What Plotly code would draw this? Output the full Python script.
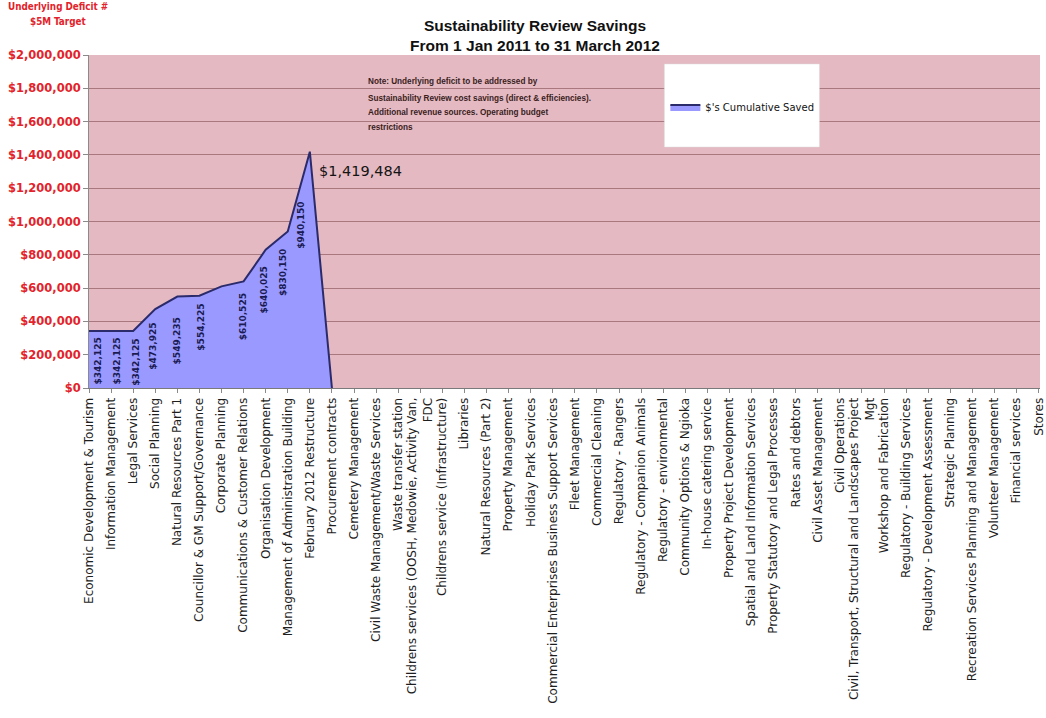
import plotly.graph_objects as go

categories = [
    "Economic Development & Tourism",
    "Information Management",
    "Legal Services",
    "Social Planning",
    "Natural Resources Part 1",
    "Councillor & GM Support/Governance",
    "Corporate Planning",
    "Communications & Customer Relations",
    "Organisation Development",
    "Management of Administration Building",
    "February 2012 Restructure",
    "Procurement contracts",
    "Cemetery Management",
    "Civil Waste Management/Waste Services",
    "Waste transfer station",
    "Childrens services (OOSH, Medowie, Activity Van,<br>FDC",
    "Childrens service (Infrastructure)",
    "Libraries",
    "Natural Resources (Part 2)",
    "Property Management",
    "Holiday Park Services",
    "Commercial Enterprises Business Support Services",
    "Fleet Management",
    "Commercial Cleaning",
    "Regulatory - Rangers",
    "Regulatory - Companion Animals",
    "Regulatory - environmental",
    "Community Options & Ngioka",
    "In-house catering service",
    "Property Project Development",
    "Spatial and Land Information Services",
    "Property Statutory and Legal Processes",
    "Rates and debtors",
    "Civil Asset Management",
    "Civil Operations",
    "Civil, Transport, Structural and Landscapes Project<br>Mgt",
    "Workshop and Fabrication",
    "Regulatory - Building Services",
    "Regulatory - Development Assessment",
    "Strategic Planning",
    "Recreation Services Planning and Management",
    "Volunteer Management",
    "Financial services",
    "Stores",
]

cumulative_saved = [342125, 342125, 342125, 473925, 549235, 554225,
                    610525, 640025, 830150, 940150, 1419484, 0]

series_name = "$'s Cumulative Saved"
title_lines = ["Sustainability Review Savings", "From 1 Jan 2011 to 31 March 2012"]
note_lines = [
    "Note: Underlying deficit to be addressed by",
    "Sustainability Review cost savings (direct & efficiencies).",
    "Additional revenue sources. Operating budget",
    "restrictions",
]
target_lines = ["Underlying Deficit #", "$5M Target"]
y_ticks = list(range(0, 2000001, 200000))

# ---- styling / layout ----
W, H = 1046, 718
ML, MR, MT, MB = 89, 0, 55, 330
PW, PH = W - ML - MR, H - MT - MB
PINK = "#e4b9c1"
GRID = "#a9787f"
RED = "#e2232b"
FILL = "#9999ff"
EDGE = "#2b2b6b"
ARIAL = "Liberation Sans, Arial, sans-serif"
COND = "DejaVu Sans Condensed, sans-serif"
WIDE = "DejaVu Sans, Verdana, sans-serif"

def px_x(x):
    return (x - ML) / PW

def px_y(y):
    return (H - MB - y) / PH

y_vals = cumulative_saved + [None] * (len(categories) - len(cumulative_saved))

fig = go.Figure()
fig.add_trace(go.Scatter(
    x=categories, y=y_vals, name=series_name, mode="lines",
    fill="tozeroy", fillcolor=FILL,
    line=dict(color=EDGE, width=2),
    connectgaps=False, showlegend=True,
))

# rotated data labels (offsets in pixels)
label_dx = [9, 5, 2, -3, 0, 2, 21, 20, 18, 13]
label_dy = [6, 6, 7, 13, 20, 7, 6, -16, -2, -31]
annotations = []
for i, (dx, dy) in enumerate(zip(label_dx, label_dy)):
    v = cumulative_saved[i]
    annotations.append(dict(
        x=categories[i], y=v, xref="x", yref="y",
        text=f"${v:,}", showarrow=False, textangle=-90,
        xanchor="center", yanchor="top", xshift=dx, yshift=-dy,
        font=dict(family=WIDE, size=9, color="#1b1b52", weight="bold"),
        borderpad=0,
    ))

peak_i = cumulative_saved.index(max(cumulative_saved))
annotations.append(dict(
    x=categories[peak_i], y=cumulative_saved[peak_i], xref="x", yref="y",
    text=f"${cumulative_saved[peak_i]:,}", showarrow=False,
    xanchor="left", yanchor="middle", xshift=7, yshift=-19,
    font=dict(family=WIDE, size=14.5, color="#141414"),
))

for line, yy in zip(note_lines, [82, 98, 112, 127]):
    annotations.append(dict(
        x=px_x(368), y=px_y(yy), xref="paper", yref="paper",
        text=f"<b>{line}</b>", showarrow=False,
        xanchor="left", yanchor="middle",
        font=dict(family=ARIAL, size=8.2, color="#3a1d1d"),
    ))

for line, yy in zip(target_lines, [7, 21]):
    annotations.append(dict(
        x=px_x(58), y=px_y(yy), xref="paper", yref="paper",
        text=f"<b>{line}</b>", showarrow=False,
        xanchor="center", yanchor="middle",
        font=dict(family=COND, size=9.8, color=RED),
    ))

shapes = [dict(
    type="rect", xref="paper", yref="paper",
    x0=px_x(668), x1=px_x(824), y0=px_y(147), y1=px_y(64),
    fillcolor="white", line=dict(color="#dddddd", width=0.5), layer="above",
)]

fig.update_layout(
    width=W, height=H,
    margin=dict(l=ML, r=MR, t=MT, b=MB, pad=0),
    paper_bgcolor="white", plot_bgcolor=PINK,
    title=dict(
        text="<b>" + "<br>".join(title_lines) + "</b>",
        x=535 / W, xref="container", xanchor="center",
        y=1 - 31 / H, yref="container", yanchor="middle",
        font=dict(family=ARIAL, size=15.5, color="#111111"),
    ),
    legend=dict(
        x=px_x(669), y=px_y(107), xref="paper", yref="paper",
        xanchor="left", yanchor="middle",
        bgcolor="rgba(0,0,0,0)", borderwidth=0,
        font=dict(family=WIDE, size=10, color="#111111"),
        itemwidth=30,
    ),
    showlegend=True,
    annotations=annotations,
    shapes=shapes,
    xaxis=dict(
        type="category", categoryorder="array", categoryarray=categories,
        range=[0, (W - ML) / ((1044.6 - ML) / 43)],
        showgrid=False, showline=True, linecolor="#7a7a7a", linewidth=1,
        ticks="outside", ticklen=4, tickcolor="#8a8a8a", tickangle=-90,
        tickfont=dict(family=WIDE, size=12, color="#1e1e1e"),
        zeroline=False,
    ),
    yaxis=dict(
        range=[0, 2000000], tickmode="array", tickvals=y_ticks,
        ticktext=[f"${v:,}" for v in y_ticks],
        showgrid=True, gridcolor=GRID, gridwidth=1,
        showline=True, linecolor="#8a8a8a", linewidth=1,
        ticks="outside", ticklen=5, tickcolor="#8a8a8a",
        tickfont=dict(family=WIDE, size=11.5, color=RED, weight="bold"),
        zeroline=False,
    ),
)

fig.write_html("out.html")
